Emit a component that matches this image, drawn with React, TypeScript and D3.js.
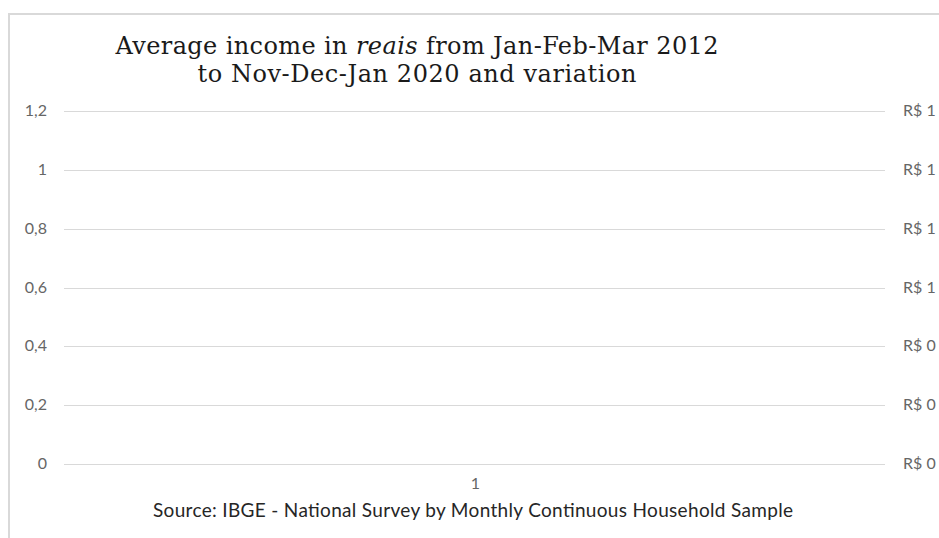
import React, { useEffect, useRef } from 'react';
import * as d3 from 'd3';

// chart content (the reference shows no data marks, only the empty frame)
const categories = ['1'];
const incomeValues: number[] = [];
const variationValues: number[] = [];
const leftTicks = [0, 0.2, 0.4, 0.6, 0.8, 1, 1.2];
const rightTicks = [0, 0.2, 0.4, 0.6, 0.8, 1, 1.2];
const titleLines = ['Average income in ', 'reais', ' from Jan-Feb-Mar 2012', 'to Nov-Dec-Jan 2020 and variation'];
const sourceText = 'Source: IBGE - National Survey by Monthly Continuous Household Sample';

const App: React.FC = () => {
  const ref = useRef<SVGSVGElement | null>(null);

  useEffect(() => {
    if (!ref.current) return;
    const W = 939, H = 538;
    const svg = d3.select(ref.current);
    svg.selectAll('*').remove();
    svg.attr('width', W).attr('height', H);

    // outer chart border (top + left visible)
    svg.append('rect')
      .attr('x', 9).attr('y', 14)
      .attr('width', W + 20).attr('height', H + 20)
      .attr('fill', '#fff').attr('stroke', '#d9d9d9').attr('stroke-width', 2);

    const left = 64, right = 885, top = 111, bottom = 464;
    const labelFont = 'Lato, "Open Sans", sans-serif';

    const y = d3.scaleLinear().domain([0, 1.2]).range([bottom, top]);
    const y2 = d3.scaleLinear().domain([0, 1.2]).range([bottom, top]);
    const x = d3.scaleBand().domain(categories).range([left + 2, right]);

    // gridlines
    svg.append('g').selectAll('line')
      .data(leftTicks)
      .enter().append('line')
      .attr('x1', left).attr('x2', right)
      .attr('y1', d => Math.round(y(d)) + 0.5)
      .attr('y2', d => Math.round(y(d)) + 0.5)
      .attr('stroke', '#d9d9d9').attr('stroke-width', 1);

    const fmt = (d: number) => d3.format('~g')(d).replace('.', ',');

    svg.append('g').selectAll('text')
      .data(leftTicks)
      .enter().append('text')
      .attr('x', 47)
      .attr('y', d => y(d) + 5)
      .attr('text-anchor', 'end')
      .attr('font-family', labelFont)
      .attr('font-size', 16)
      .attr('fill', '#666')
      .text(d => fmt(d));

    svg.append('g').selectAll('text')
      .data(rightTicks)
      .enter().append('text')
      .attr('x', 903)
      .attr('y', d => y2(d) + 5)
      .attr('font-family', labelFont)
      .attr('font-size', 16)
      .attr('fill', '#666')
      .text(d => `R$ ${Math.round(d)}`);

    // bars / line for the series (empty in the source)
    svg.append('g').selectAll('rect')
      .data(incomeValues)
      .enter().append('rect')
      .attr('x', (_, i) => x(categories[i]) as number)
      .attr('width', x.bandwidth())
      .attr('y', d => y(d))
      .attr('height', d => bottom - y(d))
      .attr('fill', '#4472c4');
    if (variationValues.length) {
      svg.append('path')
        .datum(variationValues)
        .attr('fill', 'none').attr('stroke', '#ed7d31').attr('stroke-width', 2)
        .attr('d', d3.line<number>()
          .x((_, i) => (x(categories[i]) as number) + x.bandwidth() / 2)
          .y(d => y2(d)));
    }

    // category label
    svg.append('g').selectAll('text')
      .data(categories)
      .enter().append('text')
      .attr('x', d => (x(d) as number) + x.bandwidth() / 2)
      .attr('y', 489)
      .attr('text-anchor', 'middle')
      .attr('font-family', labelFont)
      .attr('font-size', 16)
      .attr('fill', '#666')
      .text(d => d);

    // title
    const t1 = svg.append('text')
      .attr('x', 417).attr('y', 54)
      .attr('text-anchor', 'middle')
      .attr('font-family', '"DejaVu Serif", serif')
      .attr('font-size', 24)
      .attr('textLength', 603)
      .attr('lengthAdjust', 'spacing')
      .attr('fill', '#1a1a1a');
    t1.append('tspan').text(titleLines[0]);
    t1.append('tspan').attr('font-style', 'italic').text(titleLines[1]);
    t1.append('tspan').text(titleLines[2]);
    svg.append('text')
      .attr('x', 417).attr('y', 82)
      .attr('text-anchor', 'middle')
      .attr('font-family', '"DejaVu Serif", serif')
      .attr('font-size', 24)
      .attr('textLength', 439)
      .attr('lengthAdjust', 'spacing')
      .attr('fill', '#1a1a1a')
      .text(titleLines[3]);

    // source
    svg.append('text')
      .attr('x', 473).attr('y', 517)
      .attr('text-anchor', 'middle')
      .attr('font-family', labelFont)
      .attr('font-size', 19)
      .attr('textLength', 640)
      .attr('lengthAdjust', 'spacing')
      .attr('fill', '#262626')
      .text(sourceText);
  }, []);

  return <svg ref={ref} style={{ position: 'absolute', left: 0, top: 0, display: 'block' }}></svg>;
};

export default App;
